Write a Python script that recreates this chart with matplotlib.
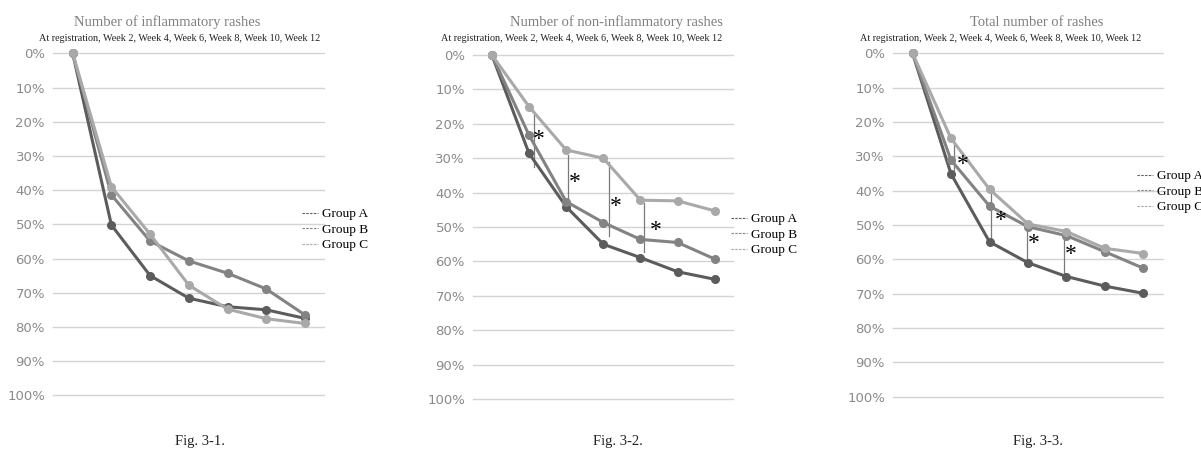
import matplotlib.pyplot as plt
from matplotlib.lines import Line2D

# visits: at registration, week 2 ... week 12
visits = ["At registration", "Week 2", "Week 4", "Week 6", "Week 8", "Week 10", "Week 12"]
groups = ["Group A", "Group B", "Group C"]
colors = ["#5c5c5c", "#838383", "#a9a9a9"]

# reduction rate (%) of inflammatory rashes
inflam_a = [0, 50.2, 65.0, 71.6, 74.1, 75.0, 77.5]
inflam_b = [0, 41.4, 54.9, 60.7, 64.3, 68.9, 76.5]
inflam_c = [0, 39.0, 52.9, 67.8, 74.8, 77.6, 79.0]

# reduction rate (%) of non-inflammatory rashes
noninf_a = [0, 28.6, 44.1, 55.0, 58.9, 63.0, 65.2]
noninf_b = [0, 23.3, 42.6, 48.7, 53.6, 54.5, 59.3]
noninf_c = [0, 15.0, 27.6, 30.0, 42.2, 42.4, 45.3]

# reduction rate (%) of total rashes
total_a = [0, 35.1, 54.9, 61.0, 65.0, 67.8, 69.9]
total_b = [0, 31.1, 44.5, 50.5, 53.1, 57.8, 62.6]
total_c = [0, 24.8, 39.6, 49.7, 51.9, 56.8, 58.3]

titles = ["Number of inflammatory rashes", "Number of non-inflammatory rashes", "Total number of rashes"]
captions = ["Fig. 3-1.", "Fig. 3-2.", "Fig. 3-3."]

# significance brackets: (x, y_top, y_bottom, star_x, star_y)
sig_noninf = [(1.14, 16.6, 32.5, 1.26, 24.7),
              (2.06, 29.1, 42.6, 2.22, 37.1),
              (3.14, 31.2, 52.7, 3.34, 44.1),
              (4.09, 43.1, 57.2, 4.42, 50.9)]
sig_total = [(1.09, 25.7, 34.0, 1.31, 32.3),
             (2.04, 39.8, 54.4, 2.30, 48.7),
             (2.97, 50.3, 60.0, 3.16, 55.3),
             (3.94, 52.4, 64.1, 4.11, 58.7)]

serif = "Liberation Serif"

fig = plt.figure(figsize=(12.01, 4.51), dpi=100)

boxes = [[0.0444, 0.1235, 0.2256, 0.7583],
         [0.3941, 0.1153, 0.2165, 0.7627],
         [0.7438, 0.1204, 0.2243, 0.7614]]
data = [[inflam_a, inflam_b, inflam_c],
        [noninf_a, noninf_b, noninf_c],
        [total_a, total_b, total_c]]
sigs = [[], sig_noninf, sig_total]
title_x = [166.7, 616.7, 1036.7]
sub_x = [180, 581.7, 1001]
cap_x = [200, 618, 1038]
leg_pos = [(302, 208), (731, 213), (1137, 170)]

for k in range(3):
    ax = fig.add_axes(boxes[k])
    x = range(len(visits))
    for vals, c in zip(data[k], colors):
        ax.plot(x, vals, color=c, lw=2.2, marker="o", ms=5.5, clip_on=False, zorder=3)
    for xs, y0, y1, sx, sy in sigs[k]:
        ax.plot([xs, xs], [y0, y1], color="#7a7a7a", lw=0.9, zorder=2)
        ax.text(sx, sy, "*", fontsize=17, family=serif, ha="center", va="center", zorder=4)
    ax.set_xlim(-0.5, 6.5)
    ax.set_ylim(100, 0)
    ax.set_yticks(range(0, 101, 10))
    ax.set_yticklabels([f"{v}%" for v in range(0, 101, 10)])
    ax.set_xticks([])
    ax.grid(axis="y", color="#d4d4d4", lw=1.0)
    for gl in ax.get_ygridlines():
        gl.set_clip_on(False)
    ax.set_axisbelow(True)
    for s in ax.spines.values():
        s.set_visible(False)
    ax.tick_params(axis="y", length=0, pad=6, labelsize=9.5, labelcolor="#8a8a8a")

    fig.text(title_x[k] / 1201, 1 - 22 / 451, titles[k], ha="center", va="center",
             family=serif, fontsize=10.5, color="#7f7f7f")
    fig.text(sub_x[k] / 1201, 1 - 38.5 / 451, ", ".join(visits), ha="center", va="center",
             family=serif, fontsize=7.3, color="#222222")
    fig.text(cap_x[k] / 1201, 1 - 442 / 451, captions[k], ha="center", va="center",
             family=serif, fontsize=10.5, color="#222222")

    handles = [Line2D([], [], color=c, lw=0.8, ls=(0, (2.2, 1.2))) for c in colors]
    lx, ly = leg_pos[k]
    fig.legend(handles, groups, loc="upper left", bbox_to_anchor=(lx / 1201, 1 - ly / 451),
               frameon=False, handlelength=1.2, handletextpad=0.3, labelspacing=0.25,
               borderpad=0, borderaxespad=0, prop={"family": serif, "size": 9.5})

fig.savefig("out.png", dpi=100)
